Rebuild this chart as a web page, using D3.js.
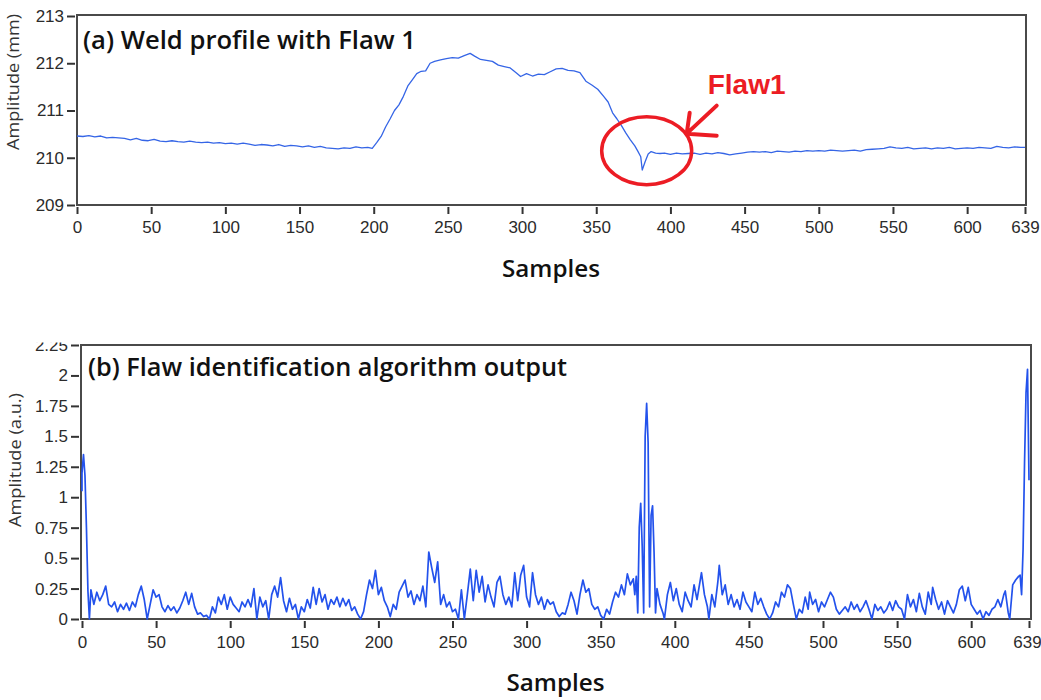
<!DOCTYPE html>
<html>
<head>
<meta charset="utf-8">
<script src="https://cdn.jsdelivr.net/npm/d3@7"></script>
<style>
  body { margin: 0; background: #fff; }
  svg { display: block; font-family: "Open Sans", sans-serif; }
  .tick text { font-size: 17px; fill: #2b2b2b; }
  .tick line { stroke: #333; stroke-width: 2; }
</style>
</head>
<body>
<div id="vis"></div>
<script>

// weld profile (a): [sample, amplitude mm]
var profileTrace = [
  [0,210.46],[4,210.45],[8,210.47],[12,210.44],[16,210.46],[20,210.42],[24,210.43],[28,210.42],[32,210.41],[36,210.38],
  [40,210.41],[44,210.37],[48,210.36],[52,210.39],[56,210.35],[60,210.34],[64,210.36],[68,210.34],[72,210.33],[76,210.35],
  [80,210.33],[84,210.32],[88,210.33],[92,210.31],[96,210.32],[100,210.30],[104,210.31],[108,210.29],[112,210.31],[116,210.29],
  [120,210.26],[124,210.28],[128,210.27],[132,210.25],[136,210.28],[140,210.24],[144,210.26],[148,210.25],[152,210.23],[156,210.25],
  [160,210.22],[164,210.24],[168,210.21],[172,210.20],[176,210.19],[180,210.21],[184,210.20],[188,210.23],[192,210.21],[196,210.22],
  [199,210.20],[202,210.32],[205,210.45],[208,210.65],[211,210.82],[214,211.00],[217,211.12],[220,211.30],[223,211.52],[226,211.65],
  [229,211.78],[232,211.83],[235,211.84],[238,212.00],[241,212.04],[245,212.07],[249,212.10],[253,212.12],[257,212.11],[261,212.16],
  [265,212.21],[268,212.15],[272,212.08],[276,212.06],[280,212.04],[284,211.96],[288,211.93],[292,211.90],[296,211.80],[299,211.72],
  [303,211.78],[307,211.73],[311,211.77],[315,211.76],[319,211.82],[323,211.88],[327,211.89],[331,211.85],[335,211.84],[339,211.80],
  [343,211.62],[347,211.54],[351,211.45],[355,211.30],[358,211.18],[361,210.95],[364,210.82],[367,210.68],[370,210.52],[373,210.38],
  [376,210.25],[378,210.14],[380,210.02],[381,209.74],[383,209.92],[385,210.08],[387,210.13],[390,210.10],[393,210.09],[396,210.10],
  [400,210.07],[404,210.10],[408,210.08],[412,210.09],[416,210.10],[420,210.07],[424,210.10],[428,210.08],[432,210.11],[436,210.09],
  [440,210.06],[444,210.08],[448,210.10],[452,210.12],[456,210.13],[460,210.12],[464,210.13],[468,210.11],[472,210.14],[476,210.13],
  [480,210.12],[484,210.14],[488,210.13],[492,210.15],[496,210.14],[500,210.15],[504,210.14],[508,210.16],[512,210.15],[516,210.14],
  [520,210.15],[524,210.16],[528,210.14],[532,210.17],[536,210.18],[540,210.19],[544,210.20],[548,210.23],[552,210.21],[556,210.20],
  [560,210.22],[564,210.19],[568,210.20],[572,210.21],[576,210.19],[580,210.21],[584,210.20],[588,210.22],[592,210.19],[596,210.20],
  [600,210.21],[604,210.20],[608,210.22],[612,210.21],[616,210.20],[620,210.24],[624,210.22],[628,210.21],[632,210.23],[636,210.22],
  [639,210.22]
];

// flaw identification output (b): [sample, amplitude a.u.]
var outputTrace = [
  [0,1.05],[0,1.2],[1,1.35],[2,1.18],[3,0.75],[4,0.23],[5,0],
  [6,0.24],[8,0.12],[10,0.22],[12,0.15],[14,0.2],[16,0.27],[18,0.12],[20,0.1],[22,0.14],[24,0.06],[26,0.12],[28,0.08],
  [30,0.13],[32,0.07],[34,0.14],[36,0.1],[38,0.2],[40,0.27],[42,0.16],[44,0],[46,0.12],[48,0.24],[50,0.18],[52,0.2],
  [54,0.1],[56,0.06],[58,0.11],[60,0.07],[62,0.1],[64,0.05],[66,0.09],[68,0.15],[70,0.22],[72,0.12],[74,0.21],[76,0.1],
  [78,0.04],[80,0.05],[82,0.02],[84,0.03],[86,0],[88,0.1],[90,0.05],[92,0.18],[94,0.12],[96,0.2],[98,0.08],[100,0.18],
  [102,0.12],[104,0.09],[106,0.06],[108,0.14],[110,0.1],[112,0.16],[114,0.1],[116,0.25],[118,0],[120,0.18],[122,0.1],
  [124,0.15],[126,0],[128,0.2],[130,0.27],[132,0.18],[134,0.34],[136,0.15],[138,0.06],[140,0.17],[142,0.08],[144,0.12],
  [146,0],[148,0.1],[150,0.06],[152,0.16],[154,0.09],[156,0.26],[158,0.12],[160,0.25],[162,0.14],[164,0.2],[166,0.08],
  [168,0.16],[170,0.12],[172,0.18],[174,0.1],[176,0.17],[178,0.11],[180,0.16],[182,0.07],[184,0.1],[186,0.04],[188,0],
  [190,0.06],[192,0.2],[194,0.32],[196,0.25],[198,0.4],[200,0.2],[202,0.26],[204,0.15],[206,0.1],[208,0.02],[210,0.12],
  [212,0.08],[214,0.22],[216,0.27],[218,0.32],[220,0.18],[222,0.23],[224,0.12],[226,0.2],[228,0.15],[230,0.27],[232,0.1],
  [234,0.55],[236,0.42],[238,0.3],[240,0.47],[242,0.12],[244,0.2],[246,0.1],[248,0.14],[250,0.06],[252,0.08],[254,0],
  [256,0.24],[258,0],[260,0.2],[262,0.41],[264,0.15],[266,0.4],[268,0.22],[270,0.35],[272,0.14],[274,0.28],[276,0.18],
  [278,0.1],[280,0.3],[282,0.35],[284,0.2],[286,0.12],[288,0.18],[290,0.1],[292,0.38],[294,0.15],[296,0.36],[298,0.44],
  [300,0.18],[302,0.1],[304,0.38],[306,0.2],[308,0.12],[310,0.18],[312,0.08],[314,0.16],[316,0.12],[318,0.14],[320,0.06],
  [322,0.02],[324,0.05],[326,0.04],[328,0.12],[330,0.22],[332,0.15],[334,0.04],[336,0.2],[338,0.32],[340,0.22],[342,0.25],
  [344,0.12],[346,0.08],[348,0.1],[350,0.03],[352,0],[354,0.08],[356,0.04],[358,0.14],[360,0.22],[362,0.18],[364,0.28],
  [366,0.2],[368,0.37],[370,0.28],[372,0.33],[373,0.2],[374,0.35],[375,0.05],[376,0.75],[377,0.95],[378,0.6],[379,0.05],
  [380,1.5],[381,1.77],[382,1.45],[383,0.1],[384,0.85],[385,0.93],[386,0.55],[387,0.05],[388,0.25],[390,0.12],[392,0.05],
  [393,0],[395,0.2],[397,0.3],[399,0.15],[401,0.25],[403,0.12],[405,0.06],[407,0.22],[409,0.15],[411,0.1],[413,0.28],
  [415,0.16],[418,0.38],[420,0.2],[422,0.1],[423,0],[425,0.2],[427,0.1],[429,0.3],[430,0.44],[432,0.2],[434,0.28],
  [436,0.12],[438,0.2],[440,0.1],[442,0.16],[444,0.08],[446,0.22],[448,0.14],[450,0.1],[452,0.06],[454,0.22],[456,0.12],
  [458,0.17],[460,0.1],[462,0.04],[464,0],[466,0.05],[468,0.14],[470,0.1],[472,0.22],[474,0.18],[476,0.28],[478,0.25],
  [480,0.12],[482,0],[484,0.08],[486,0.05],[488,0.18],[490,0.08],[491,0.22],[493,0.12],[495,0.16],[497,0.06],[499,0.14],
  [501,0.1],[503,0.16],[505,0.22],[507,0.18],[509,0.08],[511,0.04],[513,0.07],[515,0.1],[517,0.06],[519,0.14],[521,0.08],
  [523,0.12],[525,0.06],[527,0.1],[529,0.15],[531,0.08],[533,0],[535,0.12],[537,0.07],[539,0.1],[541,0.05],[543,0.08],
  [545,0.14],[547,0.07],[549,0.15],[551,0.1],[553,0.08],[555,0],[557,0.2],[559,0.1],[561,0.16],[563,0.06],[565,0.21],
  [567,0.1],[569,0.04],[571,0.22],[573,0.12],[574,0.26],[576,0.16],[578,0.08],[580,0.14],[582,0.04],[584,0.15],[586,0.1],
  [588,0.05],[590,0.12],[592,0.24],[594,0.27],[596,0.15],[598,0.26],[600,0.12],[602,0.08],[604,0.04],[606,0.07],[608,0],
  [610,0.06],[612,0.03],[614,0.08],[616,0.1],[618,0.16],[620,0.1],[622,0.2],[623,0.23],[625,0.05],[626,0],[628,0.28],
  [630,0.32],[632,0.35],[633,0.36],[634,0.2],[635,0.57],[636,1.29],[637,1.86],[638,2.05],[639,1.14]
];

var sampleTicks = [0, 50, 100, 150, 200, 250, 300, 350, 400, 450, 500, 550, 600, 639];
var profileTicks = [209, 210, 211, 212, 213];
var outputTicks = [0, 0.25, 0.5, 0.75, 1, 1.25, 1.5, 1.75, 2, 2.25];

var titleA = "(a) Weld profile with Flaw 1",
    titleB = "(b) Flaw identification algorithm output",
    flawSample = 384, flawLevel = 210.15;

var width = 1041, height = 700;

var svg = d3.select("#vis").append("svg")
    .attr("width", width)
    .attr("height", height);

// scales for both panels
var xA = d3.scaleLinear().domain([0, 639]).range([77, 1025]),
    yA = d3.scaleLinear().domain([209, 213]).range([205, 16]),
    xB = d3.scaleLinear().domain([0, 639]).range([82, 1029]),
    yB = d3.scaleLinear().domain([0, 2.25]).range([619, 345]);

// draws one panel: frame, axes, trace
function panel(x, y, trace, opts) {
  var g = svg.append("g");
  var x0 = x.range()[0], x1 = x.range()[1], y0 = y.range()[0], y1 = y.range()[1];

  g.append("rect")
      .attr("x", x0 - opts.padL).attr("y", y1 - opts.padT)
      .attr("width", x1 - x0 + opts.padL + opts.padR)
      .attr("height", y0 - y1 + opts.padT)
      .attr("fill", "#fff")
      .attr("stroke", "#4a4a4a")
      .attr("stroke-width", 2);

  g.append("path")
      .datum(trace)
      .attr("fill", "none")
      .attr("stroke", opts.color)
      .attr("stroke-width", opts.lw)
      .attr("stroke-linejoin", "round")
      .attr("d", d3.line()
        .x(function(d) { return x(d[0]); })
        .y(function(d) { return y(d[1]); }));

  var xa = g.append("g")
      .attr("transform", "translate(0," + (y0 + 2) + ")")
      .call(d3.axisBottom(x).tickValues(sampleTicks).tickSize(7).tickPadding(opts.xPad));
  xa.select(".domain").remove();
  // last label sits against the page edge
  xa.selectAll(".tick text").filter(function(d) { return d === 639; }).attr("dx", opts.lastDx);

  var ya = g.append("g")
      .attr("transform", "translate(" + (x0 - opts.padL - 2) + ",0)")
      .call(d3.axisLeft(y).tickValues(opts.yTicks).tickSize(8).tickPadding(3).tickFormat(opts.fmt));
  ya.select(".domain").remove();

  g.append("text")
      .attr("transform", "translate(" + opts.yLabelX + "," + opts.yLabelY + ") rotate(-90)")
      .attr("text-anchor", "middle")
      .attr("font-size", 16)
      .attr("fill", "#333")
      .attr("textLength", opts.yLabelW).attr("lengthAdjust", "spacingAndGlyphs")
      .text(opts.yLabel);

  g.append("text")
      .attr("x", x0 + 6).attr("y", y1 + opts.titleDy)
      .attr("font-size", 25).attr("font-weight", 600)
      .attr("fill", "#111")
      .attr("textLength", opts.titleW).attr("lengthAdjust", "spacingAndGlyphs")
      .text(opts.title);

  g.append("text")
      .attr("x", (x0 + x1) / 2).attr("y", opts.samplesY)
      .attr("text-anchor", "middle")
      .attr("font-size", 24).attr("font-weight", 600)
      .attr("fill", "#111")
      .attr("textLength", 98).attr("lengthAdjust", "spacingAndGlyphs")
      .text("Samples");

  return g;
}

panel(xA, yA, profileTrace, {
  padL: 0, padR: 1, padT: 1, color: "#3565e6", lw: 1.3, xPad: 7, lastDx: 0,
  yTicks: profileTicks, fmt: d3.format("d"),
  yLabel: "Amplitude (mm)", yLabelX: 19, yLabelY: 82, yLabelW: 136,
  title: titleA, titleW: 333, titleDy: 33, samplesY: 277
});

panel(xB, yB, outputTrace, {
  padL: 1, padR: 2, padT: 0, color: "#2352ec", lw: 1.7, xPad: 8, lastDx: -2,
  yTicks: outputTicks, fmt: function(d) { return d3.format("~g")(d); },
  yLabel: "Amplitude (a.u.)", yLabelX: 21, yLabelY: 460, yLabelW: 134,
  title: titleB, titleW: 479, titleDy: 31, samplesY: 691
});

// the lower panel is cropped just above its top tick label
svg.append("rect")
    .attr("x", 0).attr("y", 300)
    .attr("width", 78).attr("height", 42.5)
    .attr("fill", "#fff");

// red flaw annotation
var red = "#ec1c24",
    fx = xA(flawSample), fy = yA(flawLevel);

svg.append("ellipse")
    .attr("cx", fx).attr("cy", fy)
    .attr("rx", 45).attr("ry", 34)
    .attr("fill", "none")
    .attr("stroke", red)
    .attr("stroke-width", 3.5);

svg.append("path")
    .attr("d", "M" + (fx + 70) + "," + (fy - 45) + "L" + (fx + 40) + "," + (fy - 17)
        + "M" + (fx + 43) + "," + (fy - 38) + "L" + (fx + 40) + "," + (fy - 17) + "L" + (fx + 70) + "," + (fy - 15))
    .attr("fill", "none")
    .attr("stroke", red)
    .attr("stroke-width", 4)
    .attr("stroke-linecap", "round")
    .attr("stroke-linejoin", "round");

svg.append("text")
    .attr("x", fx + 61).attr("y", fy - 57)
    .attr("font-family", "Liberation Sans, Arial, sans-serif")
    .attr("font-size", 28).attr("font-weight", "bold")
    .attr("fill", red)
    .text("Flaw1");

</script>
</body>
</html>
